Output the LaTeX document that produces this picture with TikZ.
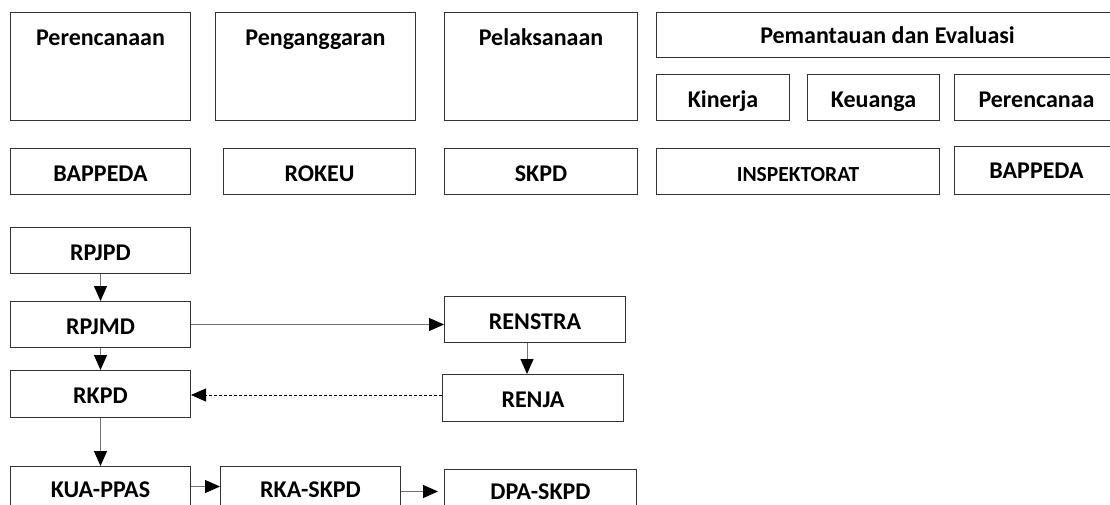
\documentclass[tikz,border=0pt]{standalone}
\usepackage{fontspec}
\setmainfont{Carlito}
\usetikzlibrary{arrows.meta}
\begin{document}
\begin{tikzpicture}[x=1pt,y=-1pt,
  box/.style={draw=black!80, line width=1pt, inner sep=0pt, font=\fontsize{24}{28}\selectfont\bfseries, text height=33pt, text depth=13pt, anchor=north west},
  tallbox/.style={box, text depth=75pt},
  conn/.style={draw=black!55, line width=1pt, -{Triangle[length=15pt,width=13pt,color=black]}},
  dconn/.style={draw=black, line width=0.8pt, dash pattern=on 3pt off 2pt, -{Triangle[length=15pt,width=13pt,color=black]}},
]
\useasboundingbox[fill=white] (0,0) rectangle (1110,505);
\node[tallbox, minimum width=180pt] (plan) at (10,12) {Perencanaan};
\node[tallbox, minimum width=200pt] (budget) at (215,12) {Penganggaran};
\node[tallbox, minimum width=193pt] (exec) at (444,12) {Pelaksanaan};
\node[box, minimum width=462pt, text height=31pt, text depth=14pt] (monev) at (656,12) {Pemantauan dan Evaluasi};
\node[box, minimum width=133pt] (kin) at (656,74) {Kinerja};
\node[box, minimum width=132pt] (keu) at (807,74) {Keuanga};
\node[box, minimum width=164pt] (ren) at (954,74) {Perencanaa};
\node[box, minimum width=180pt] (bap1) at (10,148) {BAPPEDA};
\node[box, minimum width=192pt] (rokeu) at (223,148) {ROKEU};
\node[box, minimum width=193pt] (skpd) at (444,148) {SKPD};
\node[box, minimum width=283pt, font=\fontsize{21.5}{25}\selectfont\bfseries] (insp) at (656,148) {INSPEKTORAT};
\node[box, minimum width=164pt, text height=32pt, text depth=16pt] (bap2) at (954,146) {BAPPEDA};
\node[box, minimum width=180pt] (rpjpd) at (10,227) {RPJPD};
\node[box, minimum width=180pt] (rpjmd) at (10,301) {RPJMD};
\node[box, minimum width=180pt, text depth=14pt] (rkpd) at (10,370) {RKPD};
\node[box, minimum width=180pt, text height=31pt, text depth=15pt] (kua) at (10,466) {KUA-PPAS};
\node[box, minimum width=180pt, text height=31pt, text depth=15pt] (rka) at (220,466) {RKA-SKPD};
\node[box, minimum width=181pt] (renstra) at (444,296) {RENSTRA};
\node[box, minimum width=181pt, text depth=14pt] (renja) at (442,374) {RENJA};
\node[box, minimum width=192pt, text height=30pt, text depth=16pt] (dpa) at (444,469) {DPA-SKPD};
\draw[conn] (rpjpd) -- (rpjmd);
\draw[conn] (rpjmd) -- (rkpd);
\draw[conn] (rkpd) -- (kua);
\draw[conn] (rpjmd.east) -- (rpjmd.east -| renstra.west);
\draw[conn] ([xshift=-8pt]renstra.south) -- ([xshift=-8pt]renstra.south |- renja.north);
\draw[dconn] ([yshift=3pt]renja.west) -- ([yshift=3pt]renja.west -| rkpd.east);
\draw[conn] ([yshift=3pt]kua.east) -- ([yshift=3pt]kua.east -| rka.west);
\draw[conn, shorten >=6pt] ([yshift=-2pt]rka.east) -- ([yshift=-2pt]rka.east -| dpa.west);
\end{tikzpicture}
\end{document}
